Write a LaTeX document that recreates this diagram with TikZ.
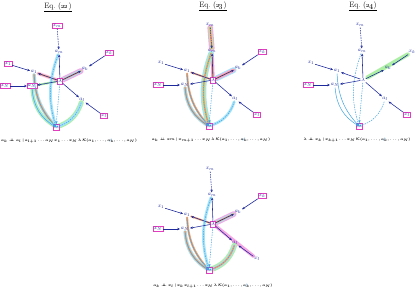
\documentclass[tikz,border=0pt]{standalone}
\usepackage{amsmath,amssymb}
\usepackage{tikz}
\usetikzlibrary{arrows.meta,positioning,calc,backgrounds}
\definecolor{netnavy}{HTML}{1E2A9C}
\definecolor{netcyan}{HTML}{3BA3E3}
\definecolor{netmagenta}{HTML}{E23DBE}
\definecolor{bandpink}{HTML}{F7A6E4}
\definecolor{bandorange}{HTML}{F5A36E}
\definecolor{bandcyan}{HTML}{A6E3F8}
\definecolor{bandgreen}{HTML}{AEEFA6}

\newcommand{\indep}{\mathrel{\perp\!\!\!\perp}}
\newcommand{\crossk}{\ooalign{$a_k$\cr\hidewidth\color{netcyan}$/$\hidewidth\cr}}

% one copy of the network, drawn in the current scope
\newcommand{\netbody}{%
    \node[var, bx xm] (xm) at (-3,55) {$x_m$};
    \node[var, bx am] (am) at (-1,29) {$a_m$};
    \node[var, bx xk] (xk) at (49,28) {$x_k$};
    \node[var, bx ak] (ak) at (25,12) {$a_k$};
    \node[var, bx x1] (x1) at (-52,17) {$x_1$};
    \node[var, bx a1] (a1) at (-26,9) {$a_1$};
    \node[var, bx lam] (lam) at (0,0) {$\lambda$};
    \node[var, bx xN] (xN) at (-55,-5) {$x_N$};
    \node[var, bx aN] (aN) at (-28,-5) {$a_N$};
    \node[var, bx al] (al) at (22,-19) {$a_l$};
    \node[var, bx xl] (xl) at (44,-35) {$x_l$};
    \node[var, bx K] (K) at (-4,-46) {$\mathcal{K}$};

    \draw[arrow, dashed] (xm) -- (am);
    \draw[arrow] (xk) -- (ak);
    \draw[arrow] (x1) -- (a1);
    \draw[arrow] (xN) -- (aN);
    \draw[arrow] (xl) -- (al);
    \draw[arrow] (lam) -- (am);
    \draw[arrow] (lam) -- (ak);
    \draw[arrow] (lam) -- (a1);
    \draw[arrow] (lam) -- (aN);
    \draw[arrow] (lam) -- (al);

    \draw[karrow, dashed] (am) to[bend right=18] (K);
    \draw[karrow, dashed] (lam) -- (K);
    \draw[karrow] (a1) to[bend right=20] (K);
    \draw[karrow] (aN) to[bend right=28] (K);
    \draw[karrow, dashed] (al) to[bend left=28] (K);
}

\tikzset{
    bx xm/.style={}, bx am/.style={}, bx xk/.style={}, bx ak/.style={},
    bx x1/.style={}, bx a1/.style={}, bx lam/.style={}, bx xN/.style={},
    bx aN/.style={}, bx al/.style={}, bx xl/.style={}, bx K/.style={},
}

\begin{document}
\begin{tikzpicture}[
    x=0.5mm, y=0.5mm,
    var/.style={inner sep=1.2pt, font=\footnotesize, text=netnavy},
    given/.style={draw=netmagenta, fill=white, line width=0.6pt},
    arrow/.style={-{Stealth[length=4pt, width=3.5pt]}, line width=0.8pt, color=netnavy},
    karrow/.style={-{Stealth[length=4pt, width=3.5pt]}, line width=0.7pt, color=netcyan},
    dashed/.style={dash pattern=on 2pt off 1.5pt},
    band/.style={line width=#1, line cap=round},
    eqtitle/.style={font=\fontsize{11}{13}\selectfont},
    caption/.style={font=\tiny\boldmath},
]
    \useasboundingbox (0,0) rectangle (415,293);

    % Eq. (22)
    \begin{scope}[shift={(60,212)}, name prefix=p1-,
        bx xm/.style=given, bx xk/.style=given, bx x1/.style=given, bx xN/.style=given,
        bx xl/.style=given, bx aN/.style=given, bx lam/.style=given, bx K/.style=given]
        \netbody
        \begin{scope}[on background layer]
            \draw[band=8pt, bandpink] (lam) -- (ak);
            \draw[band=5pt, bandcyan] (lam) -- (ak);
            \draw[band=2.5pt, bandorange] (lam) -- (ak);
            \draw[band=5pt, bandpink!60] (lam) -- (a1);
            \draw[band=2.5pt, bandorange] (lam) -- (a1);
            \draw[band=3pt, bandgreen] (lam) -- (aN);
            \draw[band=5pt, bandcyan] (a1) to[bend right=20] (K);
            \draw[band=2.5pt, bandorange] (a1) to[bend right=20] (K);
            \draw[band=5pt, bandgreen] (aN) to[bend right=28] (K);
            \draw[band=2.5pt, bandcyan] (aN) to[bend right=28] (K);
            \draw[band=4pt, bandcyan] (am) to[bend right=18] (K);
            \draw[band=7pt, bandgreen] (al) to[bend left=28] (K);
            \draw[band=4pt, bandcyan] (al) to[bend left=28] (K);
        \end{scope}
        \node[eqtitle] (t1) at (-2,74) {\underline{Eq.~(\oldstylenums{22})}};
        \node[caption] (c1) at (9,-60)
            {$a_k \indep a_l \,|\, a_{l+1}\ldots a_N\, x_1\ldots x_N\, \lambda\, \mathcal{K}(a_1,\ldots,\crossk,\ldots,a_N)$};
    \end{scope}

    % Eq. (23)
    \begin{scope}[shift={(213,213)}, name prefix=p2-,
        bx xk/.style=given, bx xN/.style=given, bx xl/.style=given,
        bx lam/.style=given, bx K/.style=given]
        \netbody
        \begin{scope}[on background layer]
            \draw[band=8pt, bandpink] (xm) -- (am);
            \draw[band=5pt, bandgreen] (xm) -- (am);
            \draw[band=2.5pt, bandorange] (xm) -- (am);
            \draw[band=5pt, bandpink] (am) -- (lam);
            \draw[band=2.5pt, bandorange] (am) -- (lam);
            \draw[band=8pt, bandcyan] (lam) -- (ak);
            \draw[band=5pt, bandpink] (lam) -- (ak);
            \draw[band=2.5pt, bandorange] (lam) -- (ak);
            \draw[band=8pt, bandcyan] (am) to[bend right=18] (K);
            \draw[band=5pt, bandgreen] (am) to[bend right=18] (K);
            \draw[band=2.5pt, bandorange] (am) to[bend right=18] (K);
            \draw[band=2.5pt, bandorange] (lam) -- (a1);
            \draw[band=3pt, bandorange] (a1) to[bend right=20] (K);
            \draw[band=5pt, bandcyan] (aN) to[bend right=28] (K);
            \draw[band=2.5pt, bandorange] (aN) to[bend right=28] (K);
            \draw[band=4pt, bandcyan] (al) to[bend left=28] (K);
        \end{scope}
        \node[eqtitle] (t2) at (0,74) {\underline{Eq.~(\oldstylenums{23})}};
        \node[caption] (c2) at (-2,-60)
            {$a_k \indep x_m \,|\, x_{m+1}\ldots x_N\, \lambda\, \mathcal{K}(a_1,\ldots,\crossk,\ldots,a_N)$};
    \end{scope}

    % Eq. (24)
    \begin{scope}[shift={(363,213)}, name prefix=p3-,
        bx xN/.style=given, bx xl/.style=given, bx K/.style=given]
        \netbody
        \begin{scope}[on background layer]
            \draw[band=6pt, bandgreen, shorten >=3pt] (xk) -- (lam);
        \end{scope}
        \node[eqtitle] (t3) at (0,74) {\underline{Eq.~(\oldstylenums{24})}};
        \node[caption] (c3) at (-6,-60)
            {$\lambda \indep x_k \,|\, x_{k+1}\ldots x_N\, \mathcal{K}(a_1,\ldots,\crossk,\ldots,a_N)$};
    \end{scope}

    % bottom copy
    \begin{scope}[shift={(213,69)}, name prefix=p4-,
        bx xk/.style=given, bx xN/.style=given, bx lam/.style=given, bx K/.style=given]
        \netbody
        \begin{scope}[on background layer]
            \draw[band=8pt, bandpink] (lam) -- (ak);
            \draw[band=5pt, bandcyan] (lam) -- (ak);
            \draw[band=2.5pt, bandorange] (lam) -- (ak);
            \draw[band=5pt, bandpink] (lam) -- (xl);
            \draw[band=2.5pt, bandorange] (lam) -- (a1);
            \draw[band=3pt, bandorange] (a1) to[bend right=20] (K);
            \draw[band=5pt, bandcyan] (aN) to[bend right=28] (K);
            \draw[band=2.5pt, bandorange] (aN) to[bend right=28] (K);
            \draw[band=4pt, bandcyan] (am) to[bend right=18] (K);
            \draw[band=8pt, bandgreen] (al) to[bend left=28] (K);
            \draw[band=5pt, bandcyan] (al) to[bend left=28] (K);
            \draw[band=2.5pt, bandorange] (al) to[bend left=28] (K);
        \end{scope}
        \node[caption] (c4) at (0,-62)
            {$a_k \indep x_l \,|\, x_k\, x_{l+1}\ldots x_N\, \lambda\, \mathcal{K}(a_1,\ldots,\crossk,\ldots,a_N)$};
    \end{scope}
\end{tikzpicture}
\end{document}
